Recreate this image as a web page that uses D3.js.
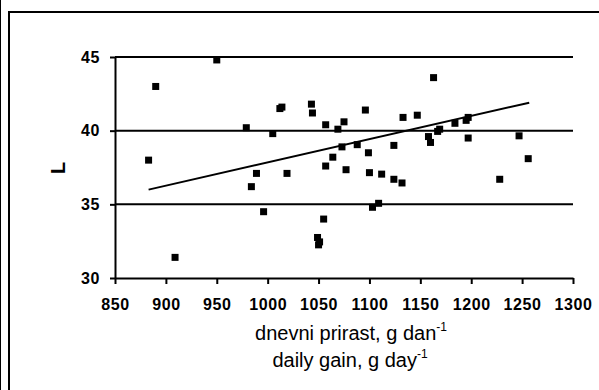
<!DOCTYPE html>
<html>
<head>
<meta charset="utf-8">
<script src="https://cdn.jsdelivr.net/npm/d3@7"></script>
<style>
  body { margin: 0; background: #fff; }
  svg { display: block; }
  text { font-family: "Liberation Sans", Arial, sans-serif; fill: #000; }
</style>
</head>
<body>
<svg width="599" height="390"></svg>
<script>
// daily gain (g/day) vs L
var gain = [883, 890, 909, 950, 979, 984, 989, 996, 1005, 1012, 1014, 1019,
    1043, 1044, 1049, 1050, 1051, 1055, 1057, 1057, 1064, 1069, 1073, 1075,
    1077, 1088, 1096, 1099, 1100, 1103, 1109, 1112, 1124, 1124, 1132, 1133,
    1147, 1158, 1160, 1163, 1167, 1169, 1184, 1195, 1197, 1197, 1228, 1247, 1256];
var lValue = [38.0, 43.0, 31.4, 44.8, 40.2, 36.2, 37.1, 34.5, 39.8, 41.5, 41.6, 37.1,
    41.8, 41.2, 32.75, 32.25, 32.45, 34.0, 40.4, 37.6, 38.2, 40.1, 38.9, 40.6,
    37.35, 39.05, 41.4, 38.5, 37.15, 34.8, 35.07, 37.05, 39.0, 36.7, 36.45, 40.9,
    41.05, 39.6, 39.2, 43.6, 39.95, 40.1, 40.5, 40.7, 40.9, 39.5, 36.7, 39.65, 38.1];
var trendX = [883, 1257];
var trendY = [36.0, 41.9];
var xTicks = [850, 900, 950, 1000, 1050, 1100, 1150, 1200, 1250, 1300];
var yTicks = [30, 35, 40, 45];
var gridValues = [35, 40, 45];

var svg = d3.select("svg");

// outer frame
svg.append("line").attr("x1", 0.5).attr("x2", 0.5).attr("y1", 0).attr("y2", 390)
    .attr("stroke", "#000").attr("stroke-width", 1);
svg.append("path").attr("d", "M9,390V12H599")
    .attr("fill", "none").attr("stroke", "#000").attr("stroke-width", 2);

var x = d3.scaleLinear().domain([850, 1300]).range([115, 573]);
var y = d3.scaleLinear().domain([30, 45]).range([278, 57]);

// grid
svg.append("g").selectAll("line").data(gridValues).enter().append("line")
    .attr("x1", x(850)).attr("x2", x(1300))
    .attr("y1", function(d) { return y(d); })
    .attr("y2", function(d) { return y(d); })
    .attr("stroke", "#000").attr("stroke-width", 2);

var xAxis = svg.append("g").attr("transform", "translate(0," + y(30) + ")")
    .call(d3.axisBottom(x).tickValues(xTicks).tickFormat(d3.format("d"))
        .tickSize(6).tickPadding(15).tickSizeOuter(0));
var yAxis = svg.append("g").attr("transform", "translate(" + x(850) + ",0)")
    .call(d3.axisLeft(y).tickValues(yTicks).tickFormat(d3.format("d"))
        .tickSize(5).tickPadding(10).tickSizeOuter(0));

[xAxis, yAxis].forEach(function(a) {
    a.select(".domain").attr("stroke", "#000").attr("stroke-width", 2);
    a.selectAll(".tick line").attr("stroke", "#000").attr("stroke-width", 2);
    a.selectAll(".tick text").attr("font-size", 16).attr("font-weight", "bold")
        .attr("letter-spacing", 0.6)
        .attr("font-family", "Liberation Sans, Arial, sans-serif").attr("fill", "#000");
});

// trend line
svg.append("line")
    .attr("x1", x(trendX[0])).attr("y1", y(trendY[0]))
    .attr("x2", x(trendX[1])).attr("y2", y(trendY[1]))
    .attr("stroke", "#000").attr("stroke-width", 2);

// points
var pts = gain.map(function(g, i) { return { g: g, l: lValue[i] }; });
svg.append("g").selectAll("rect").data(pts).enter().append("rect")
    .attr("x", function(d) { return x(d.g) - 3.5; })
    .attr("y", function(d) { return y(d.l) - 3.5; })
    .attr("width", 7).attr("height", 7)
    .attr("fill", "#000");

// axis titles
svg.append("text").attr("transform", "translate(65,168) rotate(-90)")
    .attr("text-anchor", "middle").attr("font-size", 20).attr("font-weight", "bold")
    .text("L");

var t1 = svg.append("text").attr("x", 351).attr("y", 340).attr("text-anchor", "middle")
    .attr("font-size", 20);
t1.append("tspan").text("dnevni prirast, g dan");
t1.append("tspan").attr("font-size", 12).attr("dy", -9).text("-1");

var t2 = svg.append("text").attr("x", 350).attr("y", 367).attr("text-anchor", "middle")
    .attr("font-size", 20);
t2.append("tspan").text("daily gain, g day");
t2.append("tspan").attr("font-size", 12).attr("dy", -9).text("-1");
</script>
</body>
</html>
